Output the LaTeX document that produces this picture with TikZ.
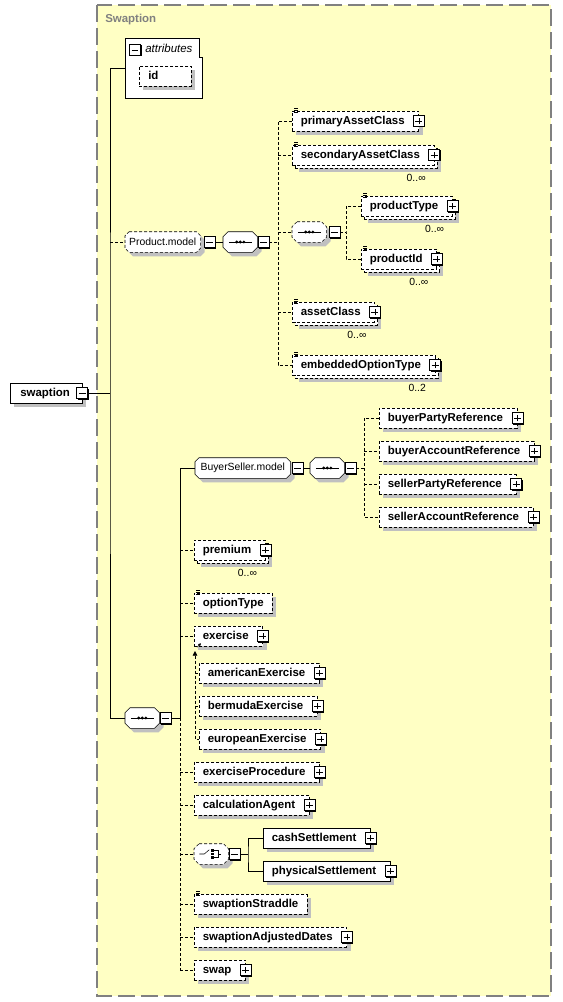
\documentclass[tikz,border=0pt]{standalone}
\usepackage{fontspec}
\setmainfont{Liberation Sans}
\usepackage{tikz}
\usetikzlibrary{positioning, shadows, arrows.meta}

\definecolor{paper}{HTML}{FFFFC4}
\definecolor{frame}{HTML}{808080}
\definecolor{shade}{HTML}{C0C0C0}
\newcommand{\elfont}{\fontsize{8.6}{10}\selectfont\bfseries}
\newcommand{\grfont}{\fontsize{7.8}{9}\selectfont}
\pgfdeclarelayer{back}
\pgfdeclarelayer{bg}
\pgfsetlayers{back,bg,main}

\begin{document}
\begin{tikzpicture}[x=0.75pt, y=-0.75pt, line width=0.75pt,
        optl/.style={dash pattern=on 2.25pt off 1.5pt},
        base/.style={draw, fill=white, font=\elfont, anchor=west, minimum height=15pt,
            inner xsep=6.375pt, inner ysep=0pt, text height=6.8pt, text depth=1.4pt},
        one/.style={base, general shadow={shadow xshift=3pt, shadow yshift=-3pt, fill=shade}},
        many/.style={base,
            general shadow={shadow xshift=5pt, shadow yshift=-5pt, fill=shade},
            general shadow={shadow xshift=2.25pt, shadow yshift=-2.25pt, draw, fill=white}},
        kids/.style={execute at end node={\hspace*{#1}}}, kids/.default=4.1pt,
        grp/.style={anchor=west, minimum height=15pt, inner sep=0pt, font=\grfont},
        seqnode/.style={grp, minimum width=25.5pt},
        tog/.style={draw, fill=white, minimum size=8.25pt, inner sep=0pt,
            general shadow={shadow xshift=0.75pt, shadow yshift=-0.75pt, fill=black}},
        plusbox/.style={tog, path picture={
            \draw[shift={(path picture bounding box.center)}, x=1pt, y=1pt] (-2.6,0) -- (2.6,0) (0,-2.6) -- (0,2.6);
        }},
        minusbox/.style={tog, path picture={
            \draw[shift={(path picture bounding box.center)}, x=1pt, y=1pt] (-2.6,0) -- (2.6,0);
        }}
    ]
    \useasboundingbox (0,0) rectangle (562,1002);
    % frame
    \begin{pgfonlayer}{back}
        \draw[frame, line width=1.1pt, dash pattern=on 12.75pt off 4.5pt, fill=paper] (97,5) rectangle (551,996);
    \end{pgfonlayer}
    \node[text=frame, font=\elfont, anchor=base west, inner sep=0pt] (title) at (105,22.5) {Swaption};

    % root and attributes
    \node[one, kids=1.5pt, inner xsep=7.5pt] (sw) at (10,393) {swaption};
    \node[minimum width=57.75pt, minimum height=45pt, inner sep=0pt, anchor=north west] (attr) at (125,38) {};
    \draw[fill=white] (attr.south west) |- ([xshift=-2.25pt]attr.north east)
        |- ([yshift=-14.25pt]attr.north east) -- (attr.south east) -- cycle;
    \node[minusbox] (attr-m) at (135,50) {};
    \node[font=\fontsize{8.6}{10}\selectfont\itshape, anchor=base west, inner sep=0pt] (attr-t) at (145,52.5) {attributes};
    \node[one, optl, text width=25.5pt, inner xsep=6.75pt] (id) at (139,76) {id};

    % Product.model
    \node[grp, minimum width=56.25pt] (pm) at (125,242) {Product.model};
    \node[minusbox, right=2.25pt of pm] (pm-m) {};
    \node[seqnode] (pseq) at (223,242) {};
    \node[minusbox, right=0pt of pseq] (pseq-m) {};
    \node[one, optl, kids] (pac) at (292,121) {primaryAssetClass};
    \node[many, optl, kids] (sac) at (292,155) {secondaryAssetClass};
    \node[seqnode] (pgrp) at (292,232) {};
    \node[minusbox, right=1.5pt of pgrp] (pgrp-m) {};
    \node[many, optl, kids] (ptype) at (361,206) {productType};
    \node[many, optl, kids] (pid) at (361,259) {productId};
    \node[many, optl, kids] (ac) at (292,312) {assetClass};
    \node[many, optl, kids] (eot) at (292,365) {embeddedOptionType};

    % main sequence
    \node[seqnode] (lseq) at (125,718) {};
    \node[minusbox, right=0pt of lseq] (lseq-m) {};
    \node[grp, minimum width=71.25pt] (bsm) at (195,468) {BuyerSeller.model};
    \node[minusbox, right=1pt of bsm] (bsm-m) {};
    \node[seqnode] (bseq) at (310,468) {};
    \node[minusbox, right=0pt of bseq] (bseq-m) {};
    \foreach \n/\lbl/\y in {bpr/buyerPartyReference/418, bar/buyerAccountReference/451,
            spr/sellerPartyReference/484, sar/sellerAccountReference/517}
        \node[one, optl, kids] (\n) at (379,\y) {\lbl};
    \node[many, optl, kids] (prem) at (194,550) {premium};
    \node[one, optl] (otype) at (194,603) {optionType};
    \node[one, optl, kids] (exer) at (194,636) {exercise};
    \foreach \n/\lbl/\y in {amer/americanExercise/673, berm/bermudaExercise/706, euro/europeanExercise/739}
        \node[one, optl, kids] (\n) at (199,\y) {\lbl};
    \node[one, optl, kids] (eproc) at (194,772) {exerciseProcedure};
    \node[one, optl, kids] (cagent) at (194,805) {calculationAgent};
    \node[seqnode] (ch) at (194,854) {};
    \node[minusbox, right=0pt of ch] (ch-m) {};
    \node[one, kids] (cash) at (263,838) {cashSettlement};
    \node[one, kids] (phys) at (263,871) {physicalSettlement};
    \node[one, optl] (strad) at (194,904) {swaptionStraddle};
    \node[one, optl, kids] (adj) at (194,937) {swaptionAdjustedDates};
    \node[one, optl, kids] (swap) at (194,970) {swap};

    % octagons of the model groups
    \begin{pgfonlayer}{bg}
        \foreach \n/\cut/\ls in {pm/3/optl, pseq/3.75/solid, pgrp/3.75/optl, lseq/3.75/solid,
                bsm/3/solid, bseq/3.75/solid, ch/3.75/optl}
            \draw[\ls, fill=white, preaction={fill=shade, transform canvas={shift={(3pt,-3pt)}}}]
                ([xshift=\cut pt]\n.north west) -- ([xshift=-\cut pt]\n.north east)
                -- ([yshift=-\cut pt]\n.north east) -- ([yshift=\cut pt]\n.south east)
                -- ([xshift=-\cut pt]\n.south east) -- ([xshift=\cut pt]\n.south west)
                -- ([yshift=\cut pt]\n.south west) -- ([yshift=-\cut pt]\n.north west) -- cycle;
    \end{pgfonlayer}
    \foreach \n in {pseq,pgrp,lseq,bseq} {
        \draw ([xshift=-8.6pt]\n.center) -- ([xshift=8.6pt]\n.center);
        \foreach \dx in {-2.7,0,2.7}
            \fill ([xshift=\dx pt]\n.center) circle[radius=1.2pt];
    }
    \begin{scope}[shift={(ch.center)}, x=1pt, y=1pt]
        \draw (-9,0) -- (-5.25,0) -- (-1.5,3.2);
        \draw (1.5,2.6) -- (4.9,2.6) -- (4.9,-2.6) -- (1.5,-2.6) (4.9,0) -- (7.5,0);
        \foreach \dy in {-3.5,-0.9,1.7}
            \fill (0,\dy) rectangle ++(1.8,1.8);
    \end{scope}

    % expand boxes, simple content marks, occurrences
    \node[minusbox] (sw-m) at (sw.east) {};
    \foreach \n in {pac,sac,ptype,pid,ac,eot,bpr,bar,spr,sar,prem,exer,amer,berm,euro,eproc,cagent,cash,phys,adj,swap}
        \node[plusbox] (\n-p) at (\n.east) {};
    \foreach \n in {pac,sac,ptype,pid,ac,eot,otype,strad}
        \foreach \dy in {1.5,0,-1.5}
            \draw ([shift={(1.5pt,\dy pt)}]\n.north west) -- ++(3pt,0pt);
    \foreach \n/\m in {sac/0..∞, ptype/0..∞, pid/0..∞, ac/0..∞, eot/0..2, prem/0..∞}
        \node[font=\grfont, inner sep=0pt] (\n-c) at ([shift={(-13.5pt,-9.75pt)}]\n.south east) {\m};

    % connectors
    \coordinate (tr) at (110,393);
    \draw (sw-m.east) -- (tr);
    \draw (attr.west) -| (tr) |- (lseq.west);
    \draw[optl] (tr |- pm.west) -- (pm.west);
    \draw (pm-m.east) -- (pseq.west);
    \coordinate (pt) at (278,242);
    \draw[optl] (pseq-m.east) -- (pt);
    \draw[optl] (pac.west) -| (pt) |- (eot.west);
    \foreach \n in {sac,pgrp,ac}
        \draw[optl] (pt |- \n.west) -- (\n.west);
    \coordinate (gt) at (346,232);
    \draw[optl] (pgrp-m.east) -- (gt);
    \draw[optl] (ptype.west) -| (gt) |- (pid.west);
    \coordinate (lt) at (180,718);
    \draw (lseq-m.east) -- (lt) |- (bsm.west);
    \draw[optl] (lt) -- (lt |- swap.west);
    \foreach \n in {prem,otype,exer,eproc,cagent,ch,strad,adj,swap}
        \draw[optl] (lt |- \n.west) -- (\n.west);
    \draw (bsm-m.east) -- (bseq.west);
    \coordinate (bt) at (364,468);
    \draw[optl] (bseq-m.east) -- (bt);
    \draw[optl] (bpr.west) -| (bt) |- (sar.west);
    \foreach \n in {bar,spr}
        \draw[optl] (bt |- \n.west) -- (\n.west);
    \coordinate (ct) at (248,854);
    \draw (ch-m.east) -- (ct);
    \draw (cash.west) -| (ct) |- (phys.west);
    % substitution group of exercise
    \coordinate (sx) at (195,651);
    \draw[optl, {Triangle[length=3.5pt,width=3.5pt]}-] (sx) |- (euro.west);
    \foreach \n in {amer,berm}
        \draw[optl] (sx |- \n.west) -- (\n.west);
    \draw[-{Triangle[length=2pt,width=2pt]}] ([shift={(2.25pt,-0.75pt)}]exer.south west) -- ++(3pt,3pt);
\end{tikzpicture}
\end{document}
